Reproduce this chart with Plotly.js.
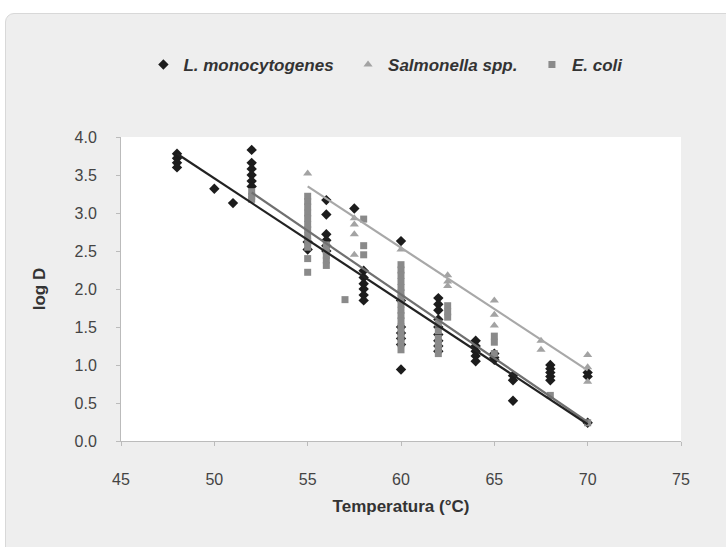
<!DOCTYPE html>
<html>
<head>
<meta charset="utf-8">
<script src="https://cdn.plot.ly/plotly-3.0.1.min.js"></script>
<style>
  html, body { margin: 0; padding: 0; background: #ffffff; width: 726px; height: 547px; overflow: hidden; }
  #panel { position: absolute; left: 5px; top: 13px; width: 740px; height: 560px; background: #eeeeee;
           border: 1px solid #d8d8d8; border-radius: 9px; }
  #chart { position: absolute; left: 0; top: 0; width: 726px; height: 547px; }
</style>
</head>
<body>
<div id="panel"></div>
<div id="chart"></div>
<script>
// ---- Data ----
const seriesNames = ["L. monocytogenes", "Salmonella spp.", "E. coli"];

// L. monocytogenes (temperature °C, log D)
const listeriaT = [48, 48, 48, 48, 50, 51, 52, 52, 52, 52, 52, 52, 55, 55,
  56, 56, 56, 56, 56, 56, 57.5, 58, 58, 58, 58, 58, 58,
  60, 60, 60, 60, 60, 60, 60, 62, 62, 62, 62, 62, 62, 62, 62, 62,
  64, 64, 64, 64, 64, 65, 65, 65, 66, 66, 66, 68, 68, 68, 68, 68, 70, 70, 70];
const listeriaLogD = [3.78, 3.72, 3.66, 3.60, 3.32, 3.13, 3.83, 3.66, 3.58, 3.50, 3.42, 3.35, 2.62, 2.52,
  3.17, 2.98, 2.72, 2.64, 2.57, 2.50, 3.06, 2.24, 2.15, 2.07, 2.00, 1.92, 1.85,
  2.63, 1.85, 1.50, 1.42, 1.35, 1.27, 0.94, 1.88, 1.80, 1.72, 1.60, 1.50, 1.40, 1.32, 1.25, 1.18,
  1.32, 1.25, 1.18, 1.12, 1.05, 1.15, 1.10, 1.07, 0.86, 0.80, 0.53, 1.00, 0.95, 0.90, 0.85, 0.80, 0.90, 0.85, 0.24];

// Salmonella spp.
const salmonellaT = [55, 57.5, 57.5, 57.5, 57.5, 60, 62.5, 62.5, 62.5, 65, 65, 65, 67.5, 67.5, 70, 70, 70];
const salmonellaLogD = [3.52, 2.93, 2.85, 2.72, 2.45, 2.52, 2.18, 2.10, 2.04, 1.85, 1.66, 1.52, 1.32, 1.20, 1.13, 0.97, 0.78];

// E. coli
const ecoliT = [52, 52, 52,
  55, 55, 55, 55, 55, 55, 55, 55, 55, 55, 55, 55,
  56, 56, 56, 56, 56, 57, 58, 58, 58,
  60, 60, 60, 60, 60, 60, 60, 60, 60, 60, 60, 60, 60, 60, 60, 60,
  62, 62, 62, 62, 62, 62, 62.5, 62.5, 62.5, 65, 65, 65, 68, 70];
const ecoliLogD = [3.28, 3.22, 3.18,
  3.22, 3.15, 3.08, 3.00, 2.93, 2.85, 2.78, 2.70, 2.62, 2.55, 2.40, 2.22,
  2.58, 2.50, 2.44, 2.38, 2.31, 1.86, 2.92, 2.57, 2.45,
  2.32, 2.25, 2.18, 2.10, 2.02, 1.95, 1.88, 1.80, 1.72, 1.65, 1.58, 1.50, 1.42, 1.35, 1.28, 1.20,
  1.55, 1.45, 1.35, 1.28, 1.22, 1.15, 1.78, 1.70, 1.63, 1.38, 1.30, 1.15, 0.60, 0.24];

// Trend lines (end points)
const listeriaTrendT = [48, 70];
const listeriaTrendLogD = [3.78, 0.22];
const salmonellaTrendT = [55, 70];
const salmonellaTrendLogD = [3.35, 0.93];
const ecoliTrendT = [52, 70];
const ecoliTrendLogD = [3.27, 0.25];

const xTickVals = [45, 50, 55, 60, 65, 70, 75];
const yTickVals = [0, 0.5, 1, 1.5, 2, 2.5, 3, 3.5, 4];
const yTickText = ["0.0", "0.5", "1.0", "1.5", "2.0", "2.5", "3.0", "3.5", "4.0"];

// ---- Traces ----
const cL = "#1c1c1c", cS = "#a3a3a3", cE = "#8a8a8a";
const pad = "\u00A0\u00A0";
const traces = [
  { x: listeriaT, y: listeriaLogD, type: "scatter", mode: "markers",
    name: "<b><i>" + seriesNames[0] + "</i></b>" + pad,
    marker: { symbol: "diamond", size: 8, color: cL } },
  { x: salmonellaT, y: salmonellaLogD, type: "scatter", mode: "markers",
    name: "<b><i>" + seriesNames[1] + "</i></b>" + pad,
    marker: { symbol: "triangle-up", size: 8, color: cS } },
  { x: ecoliT, y: ecoliLogD, type: "scatter", mode: "markers",
    name: "<b><i>" + seriesNames[2] + "</i></b>",
    marker: { symbol: "square", size: 7, color: cE } },
  { x: salmonellaTrendT, y: salmonellaTrendLogD, type: "scatter", mode: "lines", showlegend: false,
    line: { color: "#a8a8a8", width: 2.2 }, hoverinfo: "skip" },
  { x: ecoliTrendT, y: ecoliTrendLogD, type: "scatter", mode: "lines", showlegend: false,
    line: { color: "#707070", width: 2.2 }, hoverinfo: "skip" },
  { x: listeriaTrendT, y: listeriaTrendLogD, type: "scatter", mode: "lines", showlegend: false,
    line: { color: "#222222", width: 2.2 }, hoverinfo: "skip" }
];

const fontFam = "Liberation Sans, Arial, sans-serif";
const layout = {
  width: 726, height: 547,
  paper_bgcolor: "rgba(0,0,0,0)",
  plot_bgcolor: "#ffffff",
  margin: { l: 121, r: 45, t: 137, b: 106, pad: 0 },
  font: { family: fontFam, size: 16, color: "#444444" },
  showlegend: true,
  legend: {
    orientation: "h", x: 0.04, xanchor: "left", y: 1.237, yanchor: "middle",
    bgcolor: "rgba(0,0,0,0)", font: { family: fontFam, size: 17, color: "#333333" }
  },
  xaxis: {
    range: [45, 75], tickvals: xTickVals, ticktext: xTickVals.map(String),
    showgrid: false, zeroline: false, showline: true, linecolor: "#bbbbbb", linewidth: 1,
    ticks: "outside", ticklen: 4, tickcolor: "#bbbbbb", ticklabelstandoff: 20,
    tickfont: { family: fontFam, size: 16, color: "#444444" },
    title: { text: "<b>Temperatura (°C)</b>", font: { family: fontFam, size: 17, color: "#333333" }, standoff: 12 },
    fixedrange: true
  },
  yaxis: {
    range: [0, 4], tickvals: yTickVals, ticktext: yTickText,
    showgrid: false, zeroline: false, showline: true, linecolor: "#bbbbbb", linewidth: 1,
    ticks: "outside", ticklen: 4, tickcolor: "#bbbbbb", ticklabelstandoff: 16,
    tickfont: { family: fontFam, size: 16, color: "#444444" },
    title: { text: "<b>log D</b>", font: { family: fontFam, size: 17, color: "#333333" }, standoff: 24 },
    fixedrange: true
  }
};

Plotly.newPlot("chart", traces, layout, { displayModeBar: false, staticPlot: true });
</script>
</body>
</html>
